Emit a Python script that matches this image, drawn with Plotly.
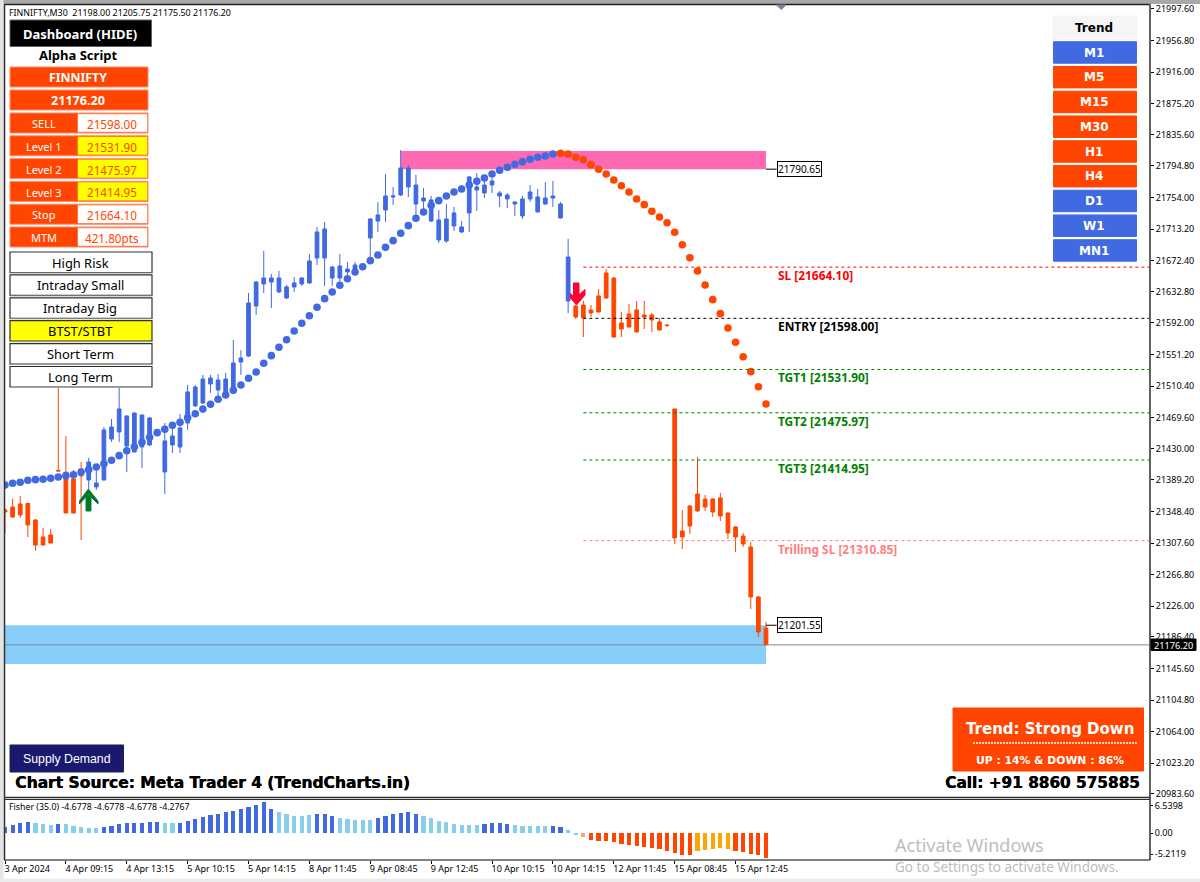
import plotly.graph_objects as go

W, H = 1200, 882
BLUE = "#4169E1"; ORANGE = "#FF4500"; SKY = "#87CEEB"; AMBER = "#FFA500"

# ---------- candles ----------
opens = [21350.4,21354.3,21358.2,21359.0,21337.5,21315.6,21318.2,21401.5,21399.2,21390.5,
 21403.4,21389.2,21380.2,21389.2,21442.1,21451.2,21433.1,21425.4,21431.8,21434.4,
 21451.2,21399.5,21434.4,21431.8,21462.8,21484.8,21488.6,21513.2,21505.4,21501.6,
 21501.6,21541.6,21549.3,21613.9,21642.4,21644.9,21632.0,21624.3,21638.5,21642.4,
 21643.7,21675.9,21675.9,21650.1,21650.1,21657.9,21661.7,21663.0,21701.8,21723.7,
 21737.9,21754.7,21757.3,21767.7,21745.7,21749.6,21723.7,21699.2,21697.9,21717.3,
 21709.5,21734.1,21763.8,21759.9,21770.2,21756.0,21752.2,21745.7,21730.2,21752.2,
 21735.4,21745.7,21753.4,21727.6,21620.4,21613.9,21615.2,21608.8,21626.9,21656.6,
 21650.1,21592.0,21603.6,21608.8,21602.3,21602.3,21593.3,21589.4,21480.9,21323.3,
 21355.6,21371.1,21364.6,21364.6,21365.9,21346.6,21328.5,21316.8,21302.6,21238.1,21198.0]
highs = [21353.0,21364.6,21368.5,21359.5,21338.8,21327.2,21325.9,21511.9,21446.0,21402.1,
 21412.4,21417.6,21408.6,21457.6,21468.0,21508.0,21472.5,21476.4,21473.8,21470.6,
 21451.8,21462.8,21462.8,21474.4,21511.9,21511.9,21524.8,21524.8,21526.1,21527.4,
 21570.0,21557.1,21630.7,21646.2,21685.0,21655.3,21659.2,21641.1,21651.4,21650.8,
 21681.1,21716.0,21722.4,21665.6,21681.1,21670.8,21670.8,21663.7,21727.6,21748.3,
 21784.4,21767.7,21815.4,21796.1,21783.2,21766.4,21756.0,21737.9,21745.7,21741.8,
 21723.7,21781.9,21785.7,21776.7,21779.3,21762.5,21759.9,21749.0,21756.0,21770.2,
 21765.1,21774.1,21775.4,21748.3,21700.5,21615.2,21620.4,21615.2,21635.9,21661.7,
 21650.8,21606.2,21616.5,21620.4,21620.4,21604.9,21598.4,21590.0,21480.9,21350.4,
 21356.9,21418.9,21369.8,21365.9,21372.4,21347.0,21329.8,21320.7,21309.1,21239.3,21205.75]
lows = [21320.7,21340.1,21340.1,21315.6,21297.5,21304.6,21307.2,21400.2,21345.9,21345.9,
 21311.7,21376.3,21376.3,21388.5,21438.3,21438.3,21399.5,21424.7,21404.7,21433.1,
 21449.3,21371.1,21424.1,21424.1,21453.8,21483.5,21487.3,21501.6,21496.4,21500.3,
 21500.3,21524.8,21548.0,21602.3,21630.7,21611.4,21630.7,21623.0,21632.0,21639.8,
 21642.4,21666.9,21639.8,21639.8,21641.1,21647.5,21657.9,21661.0,21673.4,21709.5,
 21722.4,21744.4,21756.0,21754.7,21731.5,21737.9,21722.4,21695.3,21695.3,21710.8,
 21708.2,21709.5,21736.7,21753.4,21759.9,21741.8,21740.5,21730.2,21726.3,21748.3,
 21734.7,21744.4,21741.8,21726.9,21604.9,21597.2,21573.9,21599.7,21605.5,21623.0,
 21573.2,21573.9,21586.2,21579.7,21584.2,21580.4,21582.3,21586.8,21306.5,21300.1,
 21319.4,21347.8,21349.2,21341.4,21336.2,21313.0,21296.2,21302.6,21222.6,21186.4,21175.5]
closes = [21347.8,21341.4,21344.0,21331.1,21305.2,21305.2,21307.8,21400.8,21346.6,21346.6,
 21394.4,21412.4,21385.3,21453.8,21457.6,21480.9,21471.9,21475.7,21473.1,21469.3,
 21449.9,21439.6,21446.0,21456.4,21502.9,21509.3,21519.6,21520.9,21518.4,21519.6,
 21540.3,21546.8,21617.8,21644.9,21650.1,21650.1,21650.1,21638.5,21643.7,21650.1,
 21672.1,21709.5,21713.4,21664.3,21665.6,21661.7,21666.9,21661.7,21726.3,21731.5,
 21756.0,21756.0,21792.2,21792.2,21770.2,21753.4,21750.9,21725.0,21726.3,21734.1,
 21716.0,21780.6,21767.7,21770.2,21775.4,21759.9,21757.3,21748.3,21752.2,21761.2,
 21754.7,21753.4,21756.0,21745.7,21677.2,21599.7,21598.4,21604.9,21606.2,21624.3,
 21573.9,21584.2,21586.8,21580.4,21599.7,21595.9,21582.9,21588.8,21314.3,21315.6,
 21329.8,21349.2,21354.3,21347.8,21342.7,21320.7,21315.6,21306.5,21238.1,21192.8,21176.2]

# ---------- trend dots ----------
dots_up = [21382.7,21384.9,21386.2,21388.8,21389.6,21390.1,21391.4,21393.1,21394.8,21396.0,
 21399.5,21402.5,21406.0,21410.2,21414.6,21420.6,21427.0,21432.2,21437.9,21444.3,
 21450.3,21454.7,21459.8,21463.7,21469.7,21474.8,21480.9,21487.0,21493.4,21499.0,
 21505.0,21511.9,21520.6,21528.7,21540.0,21549.8,21560.6,21570.4,21581.6,21591.6,
 21601.4,21612.3,21623.4,21632.0,21640.7,21649.2,21657.9,21664.7,21672.5,21679.8,
 21689.8,21698.3,21707.8,21717.7,21727.2,21735.4,21744.0,21750.0,21756.0,21761.2,
 21765.1,21770.2,21775.0,21779.3,21784.4,21789.2,21793.1,21797.0,21800.3,21803.4,
 21806.0,21807.7,21810.3]
dots_down = [21811.2,21810.3,21806.0,21802.9,21796.5,21790.5,21784.4,21776.7,21769.3,21761.2,
 21752.2,21744.8,21736.3,21728.9,21721.5,21709.1,21693.1,21676.3,21659.2,21641.0,
 21622.1,21604.0,21585.5,21567.0,21548.4,21529.1,21509.7,21487.4]

# ---------- Fisher histogram ----------
fisher = [1.4,1.74,2.16,2.37,2.16,1.95,1.74,1.95,1.95,1.53,1.4,1.12,1.12,1.4,1.6,1.95,2.16,2.16,2.16,2.37,
 2.37,2.16,2.16,2.16,2.58,3.0,3.35,3.77,4.04,4.39,4.74,5.16,5.5,5.93,6.5398,5.09,4.53,3.97,3.63,3.63,
 3.77,3.97,3.97,3.63,3.14,2.93,2.72,2.72,2.79,3.14,3.56,4.04,4.32,4.39,3.97,3.63,3.14,2.58,2.3,1.95,
 1.74,1.74,1.81,1.95,2.16,2.16,1.95,1.74,1.53,1.53,1.53,1.53,1.53,1.32,0.7,-0.28,-0.77,-1.4,-1.6,-1.6,
 -1.81,-2.16,-2.44,-2.58,-2.86,-3.07,-3.35,-3.77,-4.18,-4.6,-4.53,-3.77,-3.49,-3.28,-3.07,-3.28,-3.63,-3.84,-4.25,-4.6,-5.2119]
fisher_kind = list("DDDDLLLDLLLLLDDDDDDDD" "LLDDDDDDDDDDDDD" "LLLLL" "DDD" "LLLLL" "DDDDDD" "LLLLLLLL" "DDDD" "LLLLL" "DD" "LL") \
    + ["S"] + ["O"] * 14 + ["A"] * 5 + ["O"] * 6
kind_color = {"D": BLUE, "L": SKY, "O": ORANGE, "A": AMBER, "S": "#FFA07A"}

# ---------- levels ----------
level_names = ["SL", "ENTRY", "TGT1", "TGT2", "TGT3", "Trilling SL"]
level_values = [21664.10, 21598.00, 21531.90, 21475.97, 21414.95, 21310.85]
level_text = ["SL [21664.10]", "ENTRY [21598.00]", "TGT1 [21531.90]", "TGT2 [21475.97]", "TGT3 [21414.95]", "Trilling SL [21310.85]"]
level_colors = ["#FF0000", "#000000", "#008000", "#008000", "#008000", "#FF8080"]
level_start = 76
supply_zone = [21790.65, 21814.0]
demand_zone = [21151.5, 21201.55]
bid = 21176.20

price_ticks = [21997.60,21956.80,21916.00,21875.20,21835.60,21794.80,21754.00,21713.20,21672.40,21632.80,
 21592.00,21551.20,21510.40,21469.60,21430.00,21389.20,21348.40,21307.60,21266.80,21226.00,
 21186.40,21145.60,21104.80,21064.00,21023.20,20983.60]
time_labels = ["3 Apr 2024","4 Apr 09:15","4 Apr 13:15","5 Apr 10:15","5 Apr 14:15","8 Apr 11:45","9 Apr 08:45",
 "9 Apr 12:45","10 Apr 10:15","10 Apr 14:15","12 Apr 11:45","15 Apr 08:45","15 Apr 12:45"]
time_label_bars = [0,8,16,24,32,40,48,56,64,72,80,88,96]

dash_rows = [("SELL","21598.00",False),("Level 1","21531.90",True),("Level 2","21475.97",True),
             ("Level 3","21414.95",True),("Stop","21664.10",False),("MTM","421.80pts",False)]
mode_buttons = ["High Risk","Intraday Small","Intraday Big","BTST/STBT","Short Term","Long Term"]
tf_labels = ["M1","M5","M15","M30","H1","H4","D1","W1","MN1"]
tf_up = [True,False,False,False,False,False,True,True,True]

# ---------- helpers ----------
UI = "Noto Sans"
px = lambda x: x / W
py = lambda y: 1 - y / H
shapes, annos = [], []

def box(x0, y0, x1, y1, fill, line=None, lw=1, layer="above"):
    shapes.append(dict(type="rect", xref="paper", yref="paper", x0=px(x0), x1=px(x1), y0=py(y0), y1=py(y1),
                       fillcolor=fill, line=dict(color=line or fill, width=lw), layer=layer))

def hline(x0, x1, y, color, lw=1, dash="solid", layer="above"):
    shapes.append(dict(type="line", xref="paper", yref="paper", x0=px(x0), x1=px(x1), y0=py(y), y1=py(y),
                       line=dict(color=color, width=lw, dash=dash), layer=layer))

def vline(x, y0, y1, color, lw=1, layer="above"):
    shapes.append(dict(type="line", xref="paper", yref="paper", x0=px(x), x1=px(x), y0=py(y0), y1=py(y1),
                       line=dict(color=color, width=lw), layer=layer))

def text(x, y, s, size=11, color="#000", bold=False, anchor="center", family=UI, heavy=False):
    f = dict(family=family, size=size, color=color)
    if heavy:
        f["shadow"] = f"0.5px 0 0 {color}"
    annos.append(dict(xref="paper", yref="paper", x=px(x), y=py(y), text=f"<b>{s}</b>" if bold else s,
                      showarrow=False, xanchor=anchor, yanchor="middle",
                      font=f, borderpad=0, borderwidth=0))

def poly(pts, fill, line=None):
    d = "M " + " L ".join(f"{px(a):.5f},{py(b):.5f}" for a, b in pts) + " Z"
    shapes.append(dict(type="path", xref="paper", yref="paper", path=d, fillcolor=fill,
                       line=dict(color=line or fill, width=1), layer="above"))

# ---------- traces ----------
bars = list(range(len(closes)))
fig = go.Figure()
fig.add_trace(go.Candlestick(x=bars, open=opens, high=highs, low=lows, close=closes, whiskerwidth=0,
    increasing=dict(line=dict(color=BLUE, width=1), fillcolor=BLUE),
    decreasing=dict(line=dict(color=ORANGE, width=1), fillcolor=ORANGE), showlegend=False, xaxis="x", yaxis="y"))
fig.add_trace(go.Scatter(x=bars[:len(dots_up)], y=dots_up, mode="markers",
    marker=dict(color=BLUE, size=7.6), showlegend=False))
fig.add_trace(go.Scatter(x=bars[len(dots_up):], y=dots_down, mode="markers",
    marker=dict(color=ORANGE, size=7.6), showlegend=False))
x_right = 150.46
for n, v, c in zip(level_names, level_values, level_colors):
    fig.add_trace(go.Scatter(x=[level_start, x_right], y=[v, v], mode="lines", name=n,
        line=dict(color=c, width=1, dash="3px,3px"), showlegend=False))
fig.add_trace(go.Scatter(x=[0, x_right], y=[bid, bid], mode="lines", line=dict(color="#7C8CA0", width=1), showlegend=False))
fig.add_trace(go.Bar(x=bars, y=fisher, width=0.55, marker=dict(color=[kind_color[k] for k in fisher_kind], line=dict(width=0)),
    xaxis="x2", yaxis="y2", showlegend=False))

# zones
for z, c, x0 in ((supply_zone, "#FF69B4", 52), (demand_zone, "#87CEFA", 0)):
    shapes.append(dict(type="rect", xref="x", yref="y", x0=x0, x1=100, y0=z[0], y1=z[1],
                       fillcolor=c, line=dict(width=0), layer="below"))

# level labels
for t, v, c in zip(level_text, level_values, level_colors):
    annos.append(dict(xref="x", yref="y", x=101.3, y=v, yshift=-8, text=f"<b>{t}</b>", showarrow=False,
                      xanchor="left", yanchor="middle", font=dict(family=UI, size=11.9, color=c)))
# zone price tags
for v in (supply_zone[0], demand_zone[1]):
    shapes.append(dict(type="line", xref="x", yref="y", x0=100, x1=101.4, y0=v, y1=v, line=dict(color="#000", width=1), layer="above"))
    annos.append(dict(xref="x", yref="y", x=101.4, y=v, text=f"{v:.2f}", showarrow=False, xanchor="left", yanchor="middle",
                      bgcolor="#fff", bordercolor="#000", borderwidth=1, borderpad=0, font=dict(family=UI, size=10, color="#000")))

# ---------- window frame ----------
box(0, 0, W, 3.5, "#A8A8A8", layer="below")
box(0, 0, 3, H, "#E4E4E4", layer="below")
box(0, 879, W, H, "#ECECEC", layer="below")
hline(4, 1150, 4.5, "#202020", 1.5)
vline(4.5, 4, 860, "#303030", 1.5)
vline(1150, 4, 860, "#606060", 2)
hline(4, 1150, 797.5, "#303030", 1.5)
hline(4, 1150, 799.5, "#303030", 1)
hline(4, 1150, 860, "#000000", 1)
poly([(776.5, 5), (786, 5), (781.3, 9.5)], "#778899")

# ---------- dashboard ----------
text(9, 12, "FINNIFTY,M30&nbsp;&nbsp;21198.00 21205.75 21175.50 21176.20", 8.9, "#000", anchor="left")
box(10, 20, 151.5, 46.5, "#000000", "#606060")
text(80, 34, "Dashboard (HIDE)", 13, "#fff", True)
text(78, 55, "Alpha Script", 13, "#000", True)
box(10, 67, 148, 87, ORANGE, "#FF8C69")
text(78, 77.5, "FINNIFTY", 12.3, "#fff", True)
box(10, 90, 148, 110, ORANGE, "#FF8C69")
text(78, 100.5, "21176.20", 12.6, "#fff", True)
for n, (lab, val, hi) in enumerate(dash_rows):
    y0 = 113 + n * 22.8
    box(10, y0, 148, y0 + 20, ORANGE, "#FF8C69")
    box(78, y0 + 1.2, 147, y0 + 18.8, "#FFFF00" if hi else "#FFFFFF", "#FFFF00" if hi else "#FFFFFF", 0.5)
    text(44, y0 + 10.8, lab, 11, "#fff")
    text(112, y0 + 11, val, 11.7, ORANGE)
for n, lab in enumerate(mode_buttons):
    y0 = 252 + n * 22.9
    box(10, y0, 152, y0 + 20.5, "#FFFF00" if lab == "BTST/STBT" else "#FFFFFF", "#303030", 1.2)
    hline(10, 152, y0 + 21, "#A0A0A0", 1)
    text(80, y0 + 10.5, lab, 12.9, "#000")

# ---------- trend panel ----------
box(1053, 16, 1137, 39, "#F5F5F5")
text(1094, 28, "Trend", 12, "#000", True, family="DejaVu Sans")
for n, (lab, up) in enumerate(zip(tf_labels, tf_up)):
    y0 = 41.7 + n * 24.75
    box(1053.5, y0, 1136.5, y0 + 21.5, BLUE if up else ORANGE)
    text(1094, y0 + 11, lab, 12, "#fff", True, family="DejaVu Sans")

# ---------- bottom-left / bottom-right ----------
box(10, 745, 123.5, 772, "#191970", "#202040")
text(66.5, 758.5, "Supply Demand", 12.3, "#fff", family="Liberation Sans")
text(15, 783, "Chart Source: Meta Trader 4 (TrendCharts.in)", 15.5, "#000", True, anchor="left", family="DejaVu Sans", heavy=True)
box(953, 708, 1143.5, 771, ORANGE)
text(1050, 729, "Trend: Strong Down", 15, "#fff", True, family="DejaVu Sans")
hline(973, 1137, 743, "#fff", 1.5, "2px,1px")
text(1050, 760, "UP : 14% & DOWN : 86%", 10.8, "#fff", True, family="DejaVu Sans")
text(1140, 783, "Call: +91 8860 575885", 15.3, "#000", True, anchor="right", family="DejaVu Sans", heavy=True)

# ---------- arrows ----------
poly([(88.3, 489), (98, 501), (98, 504), (91, 497), (91, 511), (86, 511), (86, 497), (79.5, 504), (79.5, 501)], "#007A1E", "#0A7A50")
poly([(573.5, 283), (579, 283), (579, 295), (585, 289.5), (585, 295), (576.5, 305), (570.5, 298), (570.5, 293.5), (573.5, 296.5)], "#FF0033")

# ---------- bid tag, fisher header, axis extras, watermark ----------
box(1151, 639, 1196, 650.5, "#000000")
text(1173.5, 645, f"{bid:.2f}", 9.2, "#fff")
text(9, 807, "Fisher (35.0) -4.6778 -4.6778 -4.6778 -4.2767", 8.8, "#000", anchor="left")
text(895, 845, "Activate Windows", 18, "#BDBDBD", anchor="left")
text(895, 867, "Go to Settings to activate Windows.", 13.5, "#BDBDBD", anchor="left")

fig.update_layout(
    width=W, height=H, margin=dict(l=0, r=0, t=0, b=0), autosize=False,
    paper_bgcolor="#FFFFFF", plot_bgcolor="#FFFFFF", boxgap=0.3, bargap=0, showlegend=False,
    xaxis=dict(domain=[px(5), px(1150)], range=[0, x_right], showgrid=False, zeroline=False, showticklabels=False,
               ticks="", rangeslider=dict(visible=False), anchor="y", automargin=False),
    yaxis=dict(domain=[py(797), py(5)], range=[20979.7, 22002.7], side="right", anchor="x", showgrid=False, zeroline=False,
               tickvals=price_ticks, ticktext=[f"{v:.2f}" for v in price_ticks], ticks="outside", ticklen=3, tickcolor="#000",
               tickfont=dict(family=UI, size=9, color="#000"), automargin=False),
    xaxis2=dict(domain=[px(5), px(1150)], range=[0, x_right], showgrid=False, zeroline=False, anchor="y2",
                tickvals=time_label_bars, ticktext=time_labels, ticks="outside", ticklen=3, tickcolor="#000",
                ticklabelposition="outside right", ticklabelshift=-1, tickfont=dict(family=UI, size=9, color="#000"),
                tickangle=0, automargin=False),
    yaxis2=dict(domain=[py(860), py(800)], range=[-5.59, 6.97], side="right", anchor="x2", showgrid=False, zeroline=False,
                tickvals=[5.8, 0, -4.4], ticktext=["6.5398", "0.00", "-5.2119"], ticks="outside", ticklen=2, tickcolor="#000",
                tickfont=dict(family=UI, size=9, color="#000"), automargin=False),
    shapes=shapes, annotations=annos,
)
fig.write_html("out.html", config={"displayModeBar": False},
               post_script="document.body.style.margin='0';document.documentElement.style.overflow='hidden';")
